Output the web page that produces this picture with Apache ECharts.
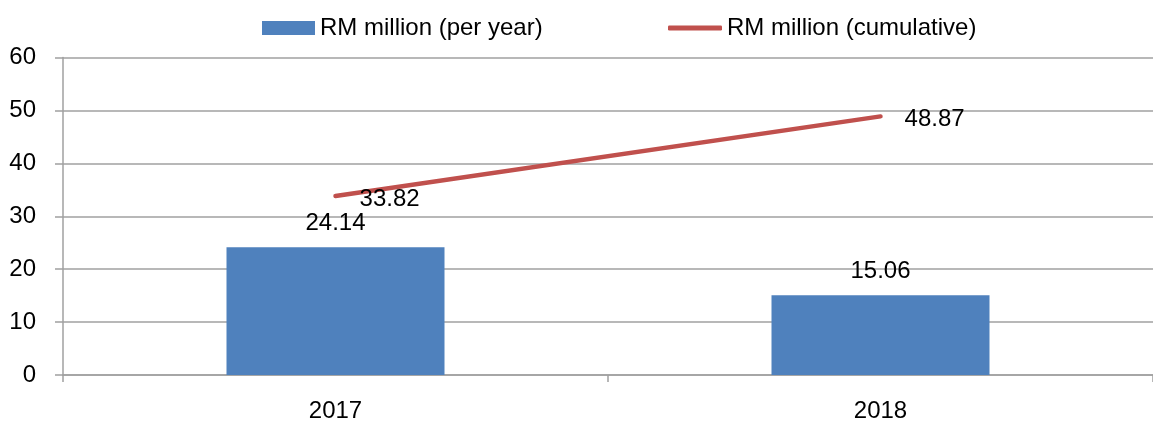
<!DOCTYPE html>
<html>
<head>
<meta charset="utf-8">
<script src="https://cdn.jsdelivr.net/npm/echarts@6/dist/echarts.min.js"></script>
<style>html,body{margin:0;padding:0;background:#fff}#c{width:1153px;height:423px}</style>
</head>
<body>
<div id="c"></div>
<script>
const categories = ['2017', '2018'];
const perYear = [24.14, 15.06];
const cumulative = [33.82, 48.87];
const seriesNames = ['RM million (per year)', 'RM million (cumulative)'];
const yTicks = { min: 0, max: 60, interval: 10 };

const FONT = 'Liberation Sans';
const FS = 24;
const chart = echarts.init(document.getElementById('c'));
chart.setOption({
  animation: false,
  textStyle: { fontFamily: FONT },
  legend: [
    { data: [{ name: seriesNames[0], icon: 'rect' }], left: 262, top: 16, padding: 0, itemWidth: 53, itemHeight: 14,
      textStyle: { fontFamily: FONT, fontSize: FS, color: '#000' } },
    { data: [{ name: seriesNames[1], icon: 'roundRect', itemStyle: { color: '#c0504d', opacity: 1 } }],
      left: 668, top: 16, padding: 0, itemWidth: 54, itemHeight: 5,
      itemStyle: { color: '#c0504d', opacity: 1, borderWidth: 0 },
      textStyle: { fontFamily: FONT, fontSize: FS, color: '#000' } }
  ],
  grid: { left: 63, right: 0, top: 57.5, bottom: 45.7, containLabel: false },
  xAxis: {
    type: 'category', data: categories, boundaryGap: true,
    axisLine: { lineStyle: { color: '#a0a0a0', width: 1.5 } },
    axisTick: { show: true, length: 7, lineStyle: { color: '#a0a0a0', width: 1.5 } },
    axisLabel: { fontFamily: FONT, fontSize: FS, color: '#000', margin: 24 }
  },
  yAxis: {
    type: 'value', min: yTicks.min, max: yTicks.max, interval: yTicks.interval,
    axisLine: { show: true, lineStyle: { color: '#a0a0a0', width: 1.5 } },
    axisTick: { show: true, length: 8, lineStyle: { color: '#a0a0a0', width: 1.5 } },
    splitLine: { show: true, lineStyle: { color: '#a0a0a0', width: 1.5 } },
    axisLabel: { fontFamily: FONT, fontSize: FS, color: '#000', margin: 27 }
  },
  series: [
    {
      name: seriesNames[0], type: 'bar', data: perYear, barWidth: '40%',
      itemStyle: { color: '#4f81bd' },
      label: { show: true, position: 'top', distance: 12, fontFamily: FONT, fontSize: FS, color: '#000' }
    },
    {
      name: seriesNames[1], type: 'line', data: cumulative,
      symbol: 'circle', symbolSize: 0.1, showSymbol: true,
      lineStyle: { color: '#c0504d', width: 4.5, cap: 'round' },
      itemStyle: { color: '#c0504d' },
      label: { show: true, position: 'right', distance: 24, offset: [0, 3], fontFamily: FONT, fontSize: FS, color: '#000' }
    }
  ]
});
</script>
</body>
</html>
